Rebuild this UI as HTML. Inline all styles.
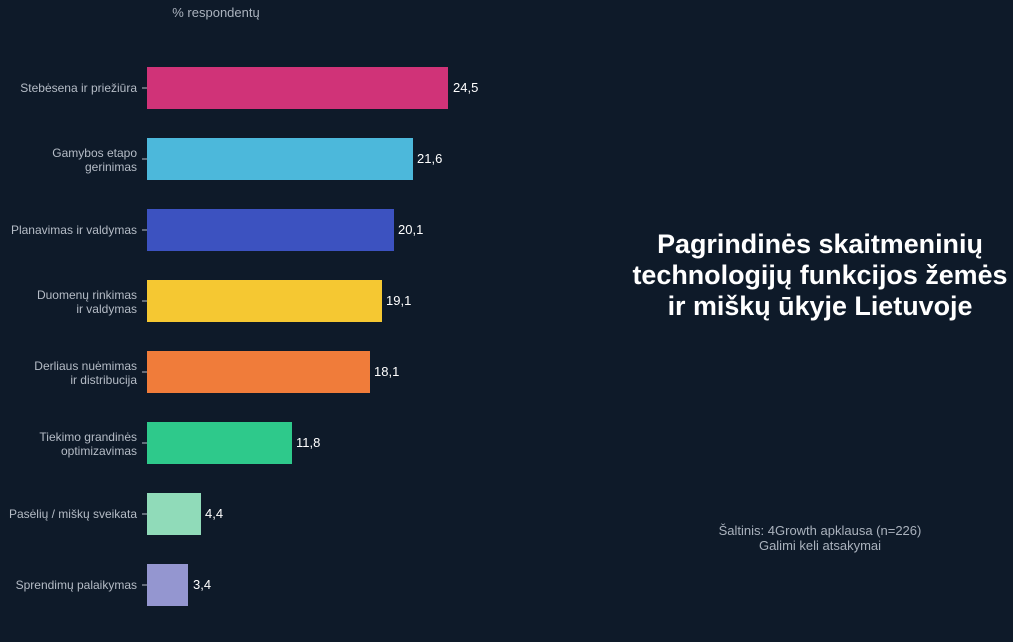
<!DOCTYPE html>
<html><head><meta charset="utf-8"><style>
html,body{margin:0;padding:0;background:#0e1a29;}
svg{display:block;font-family:"Liberation Sans",sans-serif;}
</style></head><body>
<svg width="1013" height="642" viewBox="0 0 1013 642">
<rect width="1013" height="642" fill="#0e1a29"/>
<text x="216" y="17" fill="#aab2bd" font-size="13" text-anchor="middle">% respondentų</text>
<g font-size="12" fill="#b5bcc6" text-anchor="end">
<text x="137" y="92">Stebėsena ir priežiūra</text>
<text x="137" y="157">Gamybos etapo</text><text x="137" y="171">gerinimas</text>
<text x="137" y="234">Planavimas ir valdymas</text>
<text x="137" y="299">Duomenų rinkimas</text><text x="137" y="313">ir valdymas</text>
<text x="137" y="370">Derliaus nuėmimas</text><text x="137" y="384">ir distribucija</text>
<text x="137" y="441">Tiekimo grandinės</text><text x="137" y="455">optimizavimas</text>
<text x="137" y="518">Pasėlių / miškų sveikata</text>
<text x="137" y="589">Sprendimų palaikymas</text>
</g>
<g stroke="#b5bcc6" stroke-width="1">
<line x1="142" x2="147" y1="88" y2="88"/><line x1="142" x2="147" y1="159" y2="159"/>
<line x1="142" x2="147" y1="230" y2="230"/><line x1="142" x2="147" y1="301" y2="301"/>
<line x1="142" x2="147" y1="372" y2="372"/><line x1="142" x2="147" y1="443" y2="443"/>
<line x1="142" x2="147" y1="514" y2="514"/><line x1="142" x2="147" y1="585" y2="585"/>
</g>
<rect x="147" y="67" width="301" height="42" fill="#d03378"/>
<rect x="147" y="138" width="266" height="42" fill="#4cb8db"/>
<rect x="147" y="209" width="247" height="42" fill="#3c52c0"/>
<rect x="147" y="280" width="235" height="42" fill="#f5c832"/>
<rect x="147" y="351" width="223" height="42" fill="#f07c3a"/>
<rect x="147" y="422" width="145" height="42" fill="#2ec98b"/>
<rect x="147" y="493" width="54" height="42" fill="#90dbb9"/>
<rect x="147" y="564" width="41" height="42" fill="#9496d0"/>
<g font-size="13" fill="#ffffff">
<text x="453" y="92">24,5</text><text x="417" y="163">21,6</text>
<text x="398" y="234">20,1</text><text x="386" y="305">19,1</text>
<text x="374" y="376">18,1</text><text x="296" y="447">11,8</text>
<text x="205" y="518">4,4</text><text x="193" y="589">3,4</text>
</g>
<g font-size="26.9" font-weight="bold" fill="#ffffff" text-anchor="middle">
<text x="820" y="253">Pagrindinės skaitmeninių</text>
<text x="820" y="284">technologijų funkcijos žemės</text>
<text x="820" y="315">ir miškų ūkyje Lietuvoje</text>
</g>
<g font-size="13" fill="#aab2bd" text-anchor="middle">
<text x="820" y="535">Šaltinis: 4Growth apklausa (n=226)</text>
<text x="820" y="550">Galimi keli atsakymai</text>
</g>
</svg>
</body></html>
